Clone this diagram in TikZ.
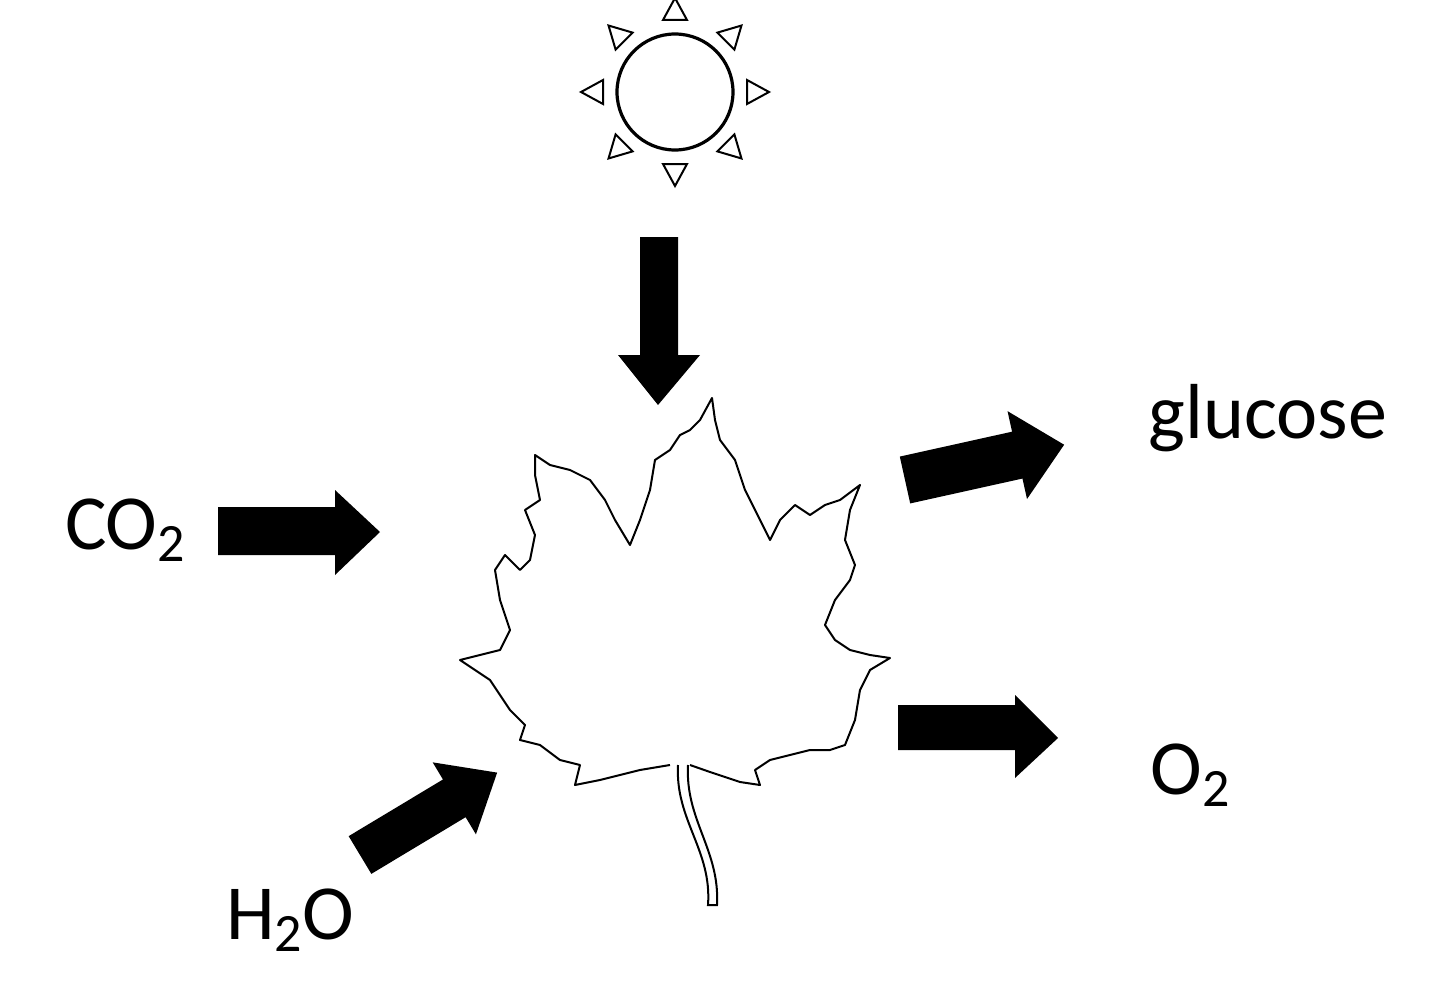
\documentclass[tikz,border=0pt]{standalone}
\usepackage{fontspec}
\setmainfont{Carlito}
\usetikzlibrary{calc}
\newcommand{\sbs}[1]{\raisebox{-0.15em}{\fontsize{27}{30}\selectfont #1}}
\begin{document}
\begin{tikzpicture}[x=0.5pt,y=-0.5pt,
  lab/.style={font=\fontsize{39}{45}\selectfont,inner sep=0pt},
  fat/.style={fill=black}]
\useasboundingbox (0,0) rectangle (1440,990);
% sun
\coordinate (sun) at (675,92);
\draw[line width=1.6pt] (sun) circle (58);
\foreach \a in {0,45,...,315}{
  \draw[line width=1pt] ($(sun)+(\a:94)$) -- ($(sun)+(\a:72)+(\a+90:12)$) -- ($(sun)+(\a:72)+(\a-90:12)$) -- cycle;}
% down arrow
\fill[fat] (640,237) -- (678,237) -- (678,355) -- (700,355) -- (658,405) -- (618,355) -- (640,355) -- cycle;
% CO2 arrow
\fill[fat] (218,507) -- (335,507) -- (335,490) -- (380,532) -- (335,575) -- (335,555) -- (218,555) -- cycle;
% O2 arrow
\fill[fat] (898,705) -- (1015,705) -- (1015,695) -- (1058,738) -- (1015,778) -- (1015,750) -- (898,750) -- cycle;
% glucose arrow
\begin{scope}[shift={(905,480)},rotate=12.5]
\fill[fat] (0,-24) -- (115,-24) -- (115,-45) -- (163,0) -- (115,45) -- (115,24) -- (0,24) -- cycle;
\end{scope}
% H2O arrow
\begin{scope}[shift={(360,855)},rotate=31]
\fill[fat] (0,-22) -- (110,-22) -- (110,-42) -- (160,0) -- (110,42) -- (110,22) -- (0,22) -- cycle;
\end{scope}
% labels
\node[lab] (co2) at (125,530) {CO\sbs{2}};
\node[lab] (glu) at (1268,418) {glucose};
\node[lab] (o2) at (1190,775) {O\sbs{2}};
\node[lab] (h2o) at (290,920) {H\sbs{2}O};
% leaf
\draw[line width=1pt,line join=round,fill=white]
(670,765) -- (640,770) -- (600,780) -- (575,785) -- (580,765) -- (560,760) -- (540,745) -- (520,740) -- (525,725) -- (510,710) -- (490,680) -- (460,660) -- (480,655) -- (500,650) -- (510,630) -- (500,600) -- (495,570) -- (505,555) -- (520,570) -- (530,560) -- (535,535) -- (525,510) -- (540,500) -- (535,475) -- (535,455) -- (550,465) -- (570,470) -- (590,480) -- (605,500) -- (615,520) -- (630,545) -- (640,520) -- (650,490) -- (655,460) -- (670,450) -- (680,435) -- (690,430) -- (700,420) -- (712,398) -- (715,420) -- (720,440) -- (735,460) -- (745,490) -- (760,520) -- (770,540) -- (780,520) -- (795,505) -- (810,515) -- (825,505) -- (840,500) -- (860,485) -- (850,510) -- (845,540) -- (855,565) -- (850,580) -- (835,600) -- (825,625) -- (835,640) -- (850,650) -- (870,655) -- (890,658) -- (870,670) -- (860,690) -- (855,720) -- (845,745) -- (830,750) -- (810,750) -- (790,755) -- (770,760) -- (755,770) -- (760,785) -- (740,782) -- (710,772) -- (690,765);
% stem
\draw[line width=1pt] (678,765) .. controls (675,820) and (712,850) .. (708,905) -- (717,905) .. controls (720,850) and (685,820) .. (688,765);
\end{tikzpicture}
\end{document}
